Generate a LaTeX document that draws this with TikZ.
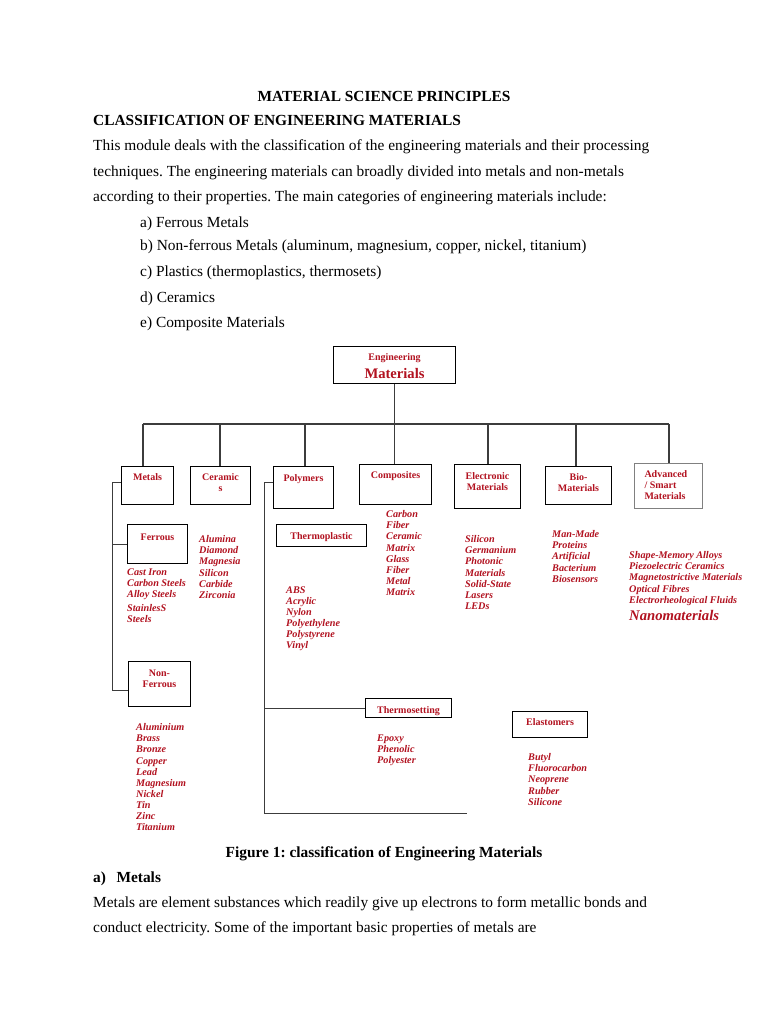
\documentclass[tikz,border=0pt]{standalone}
\usepackage{fontspec}
\setmainfont{Liberation Serif}
\definecolor{mred}{RGB}{178,18,32}
\definecolor{lgray}{RGB}{60,60,60}
\newcommand{\mybx}[4]{\parbox[t][#2pt][t]{#1pt}{\centering\rule{0pt}{#3pt}#4}}
\frenchspacing
\begin{document}
\begin{tikzpicture}[x=1pt,y=-1pt,
  body/.style={anchor=base west,inner sep=0pt,font=\fontsize{15.4}{18}\selectfont},
  bx/.style={draw=black,line width=1pt,inner sep=0pt,anchor=north west,text=mred,font=\bfseries\fontsize{10}{11}\selectfont},
  lst/.style={anchor=north west,inner sep=0pt,align=left,text=mred,font=\bfseries\itshape\fontsize{10.2}{11.1}\selectfont},
  ln/.style={draw=lgray,line width=1.3pt},
  tln/.style={draw=lgray,line width=1pt}]
\useasboundingbox (0,0) rectangle (768,1024);
\fill[white] (0,0) rectangle (768,1024);
% text
\node[body,anchor=base] (title) at (384,102) {\bfseries MATERIAL SCIENCE PRINCIPLES};
\node[body] (h2) at (93,126) {\bfseries CLASSIFICATION OF ENGINEERING MATERIALS};
\node[body] (p1) at (93,151) {This module deals with the classification of the engineering materials and their processing};
\node[body] (p2) at (93,177) {techniques. The engineering materials can broadly divided into metals and non-metals};
\node[body] (p3) at (93,202) {according to their properties. The main categories of engineering materials include:};
\node[body] (i1) at (140,227) {a) Ferrous Metals};
\node[body] (i2) at (140,251) {b) Non-ferrous Metals (aluminum, magnesium, copper, nickel, titanium)};
\node[body] (i3) at (140,276) {c) Plastics (thermoplastics, thermosets)};
\node[body] (i4) at (140,302) {d) Ceramics};
\node[body] (i5) at (140,327) {e) Composite Materials};
\node[body,anchor=base] (cap) at (384,857) {\bfseries Figure 1: classification of Engineering Materials};
\node[body] (sec) at (93,882) {\bfseries a)\hspace{10.5pt}Metals};
\node[body] (p4) at (93,907) {Metals are element substances which readily give up electrons to form metallic bonds and};
\node[body] (p5) at (93,932) {conduct electricity. Some of the important basic properties of metals are};
% boxes
\node[bx] (em) at (333,346) {\parbox[t][37pt][t]{122pt}{\centering\rule{0pt}{14pt}Engineering\\[5pt]{\fontsize{14.6}{16}\selectfont Materials}}};
\node[bx] (metals) at (121,466) {\mybx{52}{38}{14}{Metals}};
\node[bx] (ceram) at (190,466) {\mybx{60}{38}{14}{Ceramic\\s}};
\node[bx] (poly) at (273,466) {\mybx{60}{42}{15}{Polymers}};
\node[bx] (comp) at (359,464) {\mybx{72}{40}{14}{Composites}};
\node[bx] (elec) at (454,464) {\mybx{66}{44}{15}{Electronic\\Materials}};
\node[bx] (bio) at (545,466) {\mybx{66}{38}{14}{Bio-\\Materials}};
\node[bx,draw=gray] (adv) at (634,463) {\parbox[t][45pt][t]{68pt}{\leftskip=10pt\rule{0pt}{14pt}Advanced\\/ Smart\\Materials}};
\node[bx] (ferr) at (127,524) {\mybx{60}{39}{16}{Ferrous}};
\node[bx] (nonf) at (128,661) {\mybx{62}{45}{15}{Non-\\Ferrous}};
\node[bx] (tplast) at (276,524) {\mybx{90}{22}{15}{Thermoplastic}};
\node[bx] (tset) at (365,698) {\mybx{86}{19}{15}{Thermosetting}};
\node[bx] (elast) at (512,711) {\mybx{75}{26}{14}{Elastomers}};
% lists
\node[lst] (ferrl) at (127,568.5) {Cast Iron\\Carbon Steels\\Alloy Steels\\[2.5pt]StainlesS\\Steels};
\node[lst] (ceraml) at (199,535.5) {Alumina\\Diamond\\Magnesia\\Silicon\\Carbide\\Zirconia};
\node[lst] (tplastl) at (286,586.5) {ABS\\Acrylic\\Nylon\\Polyethylene\\Polystyrene\\Vinyl};
\node[lst] (compl) at (386,510.5) {Carbon\\Fiber\\Ceramic\\Matrix\\Glass\\Fiber\\Metal\\Matrix};
\node[lst] (elecl) at (465,535.5) {Silicon\\Germanium\\Photonic\\Materials\\Solid-State\\Lasers\\LEDs};
\node[lst] (biol) at (552,530.5) {Man-Made\\Proteins\\Artificial\\Bacterium\\Biosensors};
\node[lst] (advl) at (629,551.5) {Shape-Memory Alloys\\Piezoelectric Ceramics\\Magnetostrictive Materials\\Optical Fibres\\Electrorheological Fluids\\[4pt]{\fontsize{14.7}{16}\selectfont Nanomaterials}};
\node[lst] (nonfl) at (136,723.5) {Aluminium\\Brass\\Bronze\\Copper\\Lead\\Magnesium\\Nickel\\Tin\\Zinc\\Titanium};
\node[lst] (tsetl) at (377,734.5) {Epoxy\\Phenolic\\Polyester};
\node[lst] (elastl) at (528,753.5) {Butyl\\Fluorocarbon\\Neoprene\\Rubber\\Silicone};
% connectors
\coordinate (bL) at (143,424);
\coordinate (b2) at (220,424);
\coordinate (b3) at (305,424);
\coordinate (b5) at (488,424);
\coordinate (b6) at (576,424);
\coordinate (bR) at (669,424);
\draw[ln] (em.south) -- (em.south |- comp.north);
\draw[ln] (bL) -- (bR);
\draw[ln] (bL) -- (bL |- metals.north);
\draw[ln] (b2) -- (b2 |- ceram.north);
\draw[ln] (b3) -- (b3 |- poly.north);
\draw[ln] (b5) -- (b5 |- elec.north);
\draw[ln] (b6) -- (b6 |- bio.north);
\draw[ln] (bR) -- (bR |- adv.north);
\coordinate (mt) at (112,482);
\coordinate (mb) at (112,690);
\draw[tln] (mt -| metals.west) -- (mt) -- (mb) -- (mb -| nonf.west);
\draw[tln] (ferr.west -| mt) -- (ferr.west);
\coordinate (pt) at (264,482);
\coordinate (pb) at (264,813);
\coordinate (pe) at (467,813);
\draw[tln] (pt -| poly.west) -- (pt) -- (pb) -- (pe);
\draw[tln] (tset.west -| pt) -- (tset.west);
\end{tikzpicture}
\end{document}
